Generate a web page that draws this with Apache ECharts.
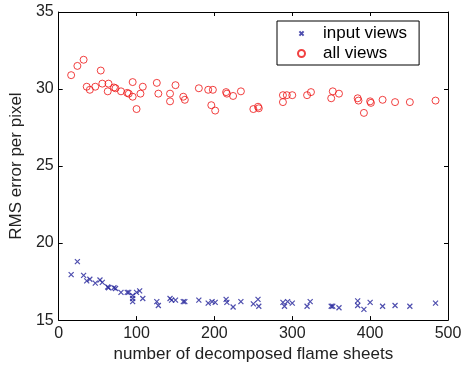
<!DOCTYPE html>
<html>
<head>
<meta charset="utf-8">
<script src="https://cdn.jsdelivr.net/npm/echarts@6/dist/echarts.min.js"></script>
<style>
  html, body { margin: 0; padding: 0; background: #fff; }
  #main { width: 465px; height: 368px; }
</style>
</head>
<body>
<div id="main"></div>
<script>
// [number of flame sheets, RMS error]
const inputViews = [
  [16, 17.95], [24, 18.8], [32, 17.9], [36, 17.55], [40, 17.65], [47, 17.4], [53, 17.6], [56, 17.45],
  [63, 17.15], [64, 17.1], [71, 17.1], [73, 17.05], [80, 16.8], [88, 16.8], [90, 16.8], [95, 16.6],
  [95, 16.4], [95, 16.2], [100, 16.8], [104, 16.9], [108, 16.4], [126, 16.2], [128, 15.95], [143, 16.4],
  [145, 16.3], [150, 16.3], [160, 16.2], [162, 16.2], [180, 16.3], [192, 16.1], [197, 16.2], [201, 16.15],
  [215, 16.35], [216, 16.15], [224, 15.85], [234, 16.2], [250, 16.05], [256, 16.35], [257, 15.9],
  [288, 16.15], [290, 15.9], [294, 16.2], [300, 16.1], [319, 15.9], [323, 16.2], [350, 15.9], [352, 15.9],
  [360, 15.8], [384, 16.25], [384, 15.95], [392, 15.7], [400, 16.15], [416, 15.9], [432, 15.95],
  [451, 15.9], [484, 16.1]
];
const allViews = [
  [16, 30.9], [24, 31.5], [32, 31.9], [54, 31.2], [36, 30.15], [40, 29.95], [47, 30.15], [56, 30.35],
  [64, 30.35], [63, 29.85], [71, 30.1], [73, 30.05], [80, 29.85], [88, 29.75], [90, 29.7], [95, 30.45],
  [95, 29.5], [100, 28.7], [105, 29.7], [108, 30.15], [126, 30.4], [128, 29.7], [143, 29.7], [143, 29.2],
  [150, 30.25], [160, 29.5], [162, 29.3], [180, 30.05], [192, 29.95], [198, 29.95], [196, 28.95],
  [201, 28.6], [215, 29.8], [216, 29.7], [224, 29.55], [234, 29.85], [250, 28.7], [256, 28.85],
  [257, 28.75], [288, 29.6], [288, 29.15], [293, 29.6], [300, 29.6], [319, 29.6], [324, 29.8],
  [350, 29.4], [352, 29.85], [360, 29.7], [384, 29.4], [385, 29.25], [392, 28.45], [400, 29.2],
  [401, 29.1], [416, 29.3], [432, 29.15], [451, 29.15], [484, 29.25]
];
const seriesNames = ['input views', 'all views'];

const font = 'Liberation Sans';
const crossPath = 'path://M0,0L10,10M10,0L0,10';

let chartDom = document.getElementById('main');
let myChart = echarts.init(chartDom);

const boxAxis = {
  axisLine: { show: true, onZero: false, lineStyle: { color: '#000', width: 1 } },
  axisTick: { show: true, inside: true, length: 4, lineStyle: { color: '#000' } },
  splitLine: { show: false }
};

let option = {
  backgroundColor: '#fff',
  animation: false,
  grid: { left: 53, right: 17, top: 12, bottom: 44 },
  legend: {
    orient: 'vertical',
    left: 277,
    top: 21,
    padding: [4, 12, 3, 20],
    itemGap: 3,
    itemWidth: 7,
    itemHeight: 7,
    borderColor: '#000',
    borderWidth: 1,
    backgroundColor: '#fff',
    data: [
      { name: seriesNames[0], icon: 'path://M2,2L8,8M8,2L2,8M0,0M10,10' },
      { name: seriesNames[1] }
    ],
    textStyle: { fontFamily: font, fontSize: 17, color: '#000', lineHeight: 17, padding: [0, 0, 0, 13] }
  },
  xAxis: [
    Object.assign({
      type: 'value', min: 0, max: 500, interval: 100, position: 'bottom',
      name: 'number of decomposed flame sheets', nameLocation: 'middle', nameGap: 24,
      nameTextStyle: { fontFamily: font, fontSize: 17, color: '#222' },
      axisLabel: { fontFamily: font, fontSize: 16, color: '#222', margin: 5 }
    }, boxAxis),
    Object.assign({
      type: 'value', min: 0, max: 500, interval: 100, position: 'top',
      axisLabel: { show: false }
    }, boxAxis)
  ],
  yAxis: [
    Object.assign({
      type: 'value', min: 15, max: 35, interval: 5, position: 'left',
      name: 'RMS error per pixel', nameLocation: 'middle', nameGap: 28,
      nameTextStyle: { fontFamily: font, fontSize: 17, color: '#222' },
      axisLabel: { fontFamily: font, fontSize: 16, color: '#222', margin: 5 }
    }, boxAxis),
    Object.assign({
      type: 'value', min: 15, max: 35, interval: 5, position: 'right',
      axisLabel: { show: false }
    }, boxAxis)
  ],
  series: [
    {
      name: seriesNames[0],
      type: 'scatter',
      symbol: crossPath,
      symbolSize: 5,
      itemStyle: { color: 'transparent', borderColor: '#22229a', borderWidth: 1.2 },
      data: inputViews
    },
    {
      name: seriesNames[1],
      type: 'scatter',
      symbol: 'circle',
      symbolSize: 7,
      itemStyle: { color: 'transparent', borderColor: '#ee1111', borderWidth: 1 },
      data: allViews
    }
  ]
};

option && myChart.setOption(option);
window.addEventListener('resize', () => {
  myChart.resize();
});
</script>
</body>
</html>
